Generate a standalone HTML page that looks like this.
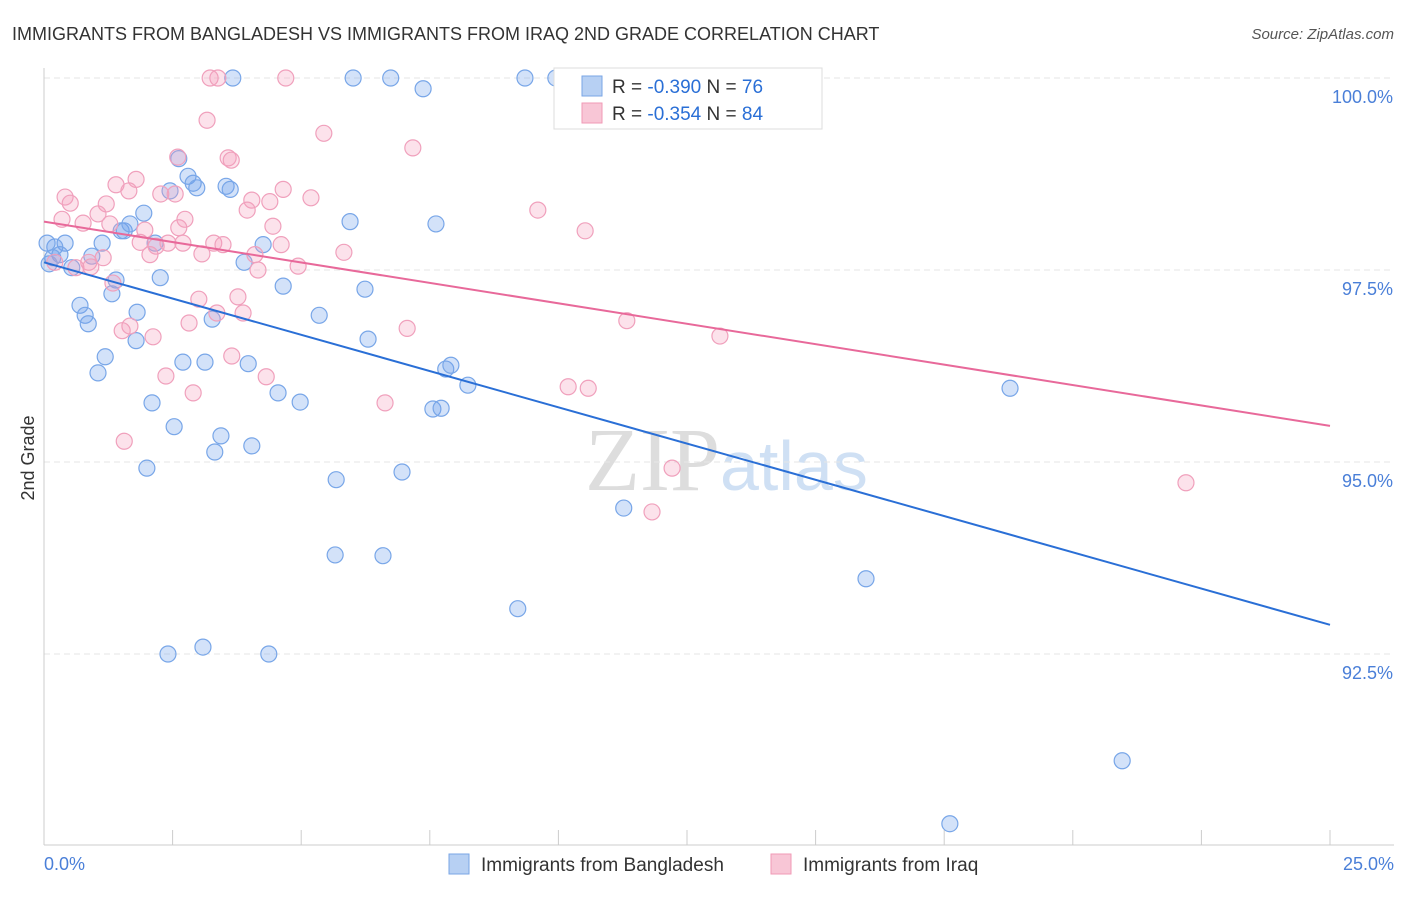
<!DOCTYPE html>
<html><head><meta charset="utf-8"><style>
body{margin:0;background:#fff;font-family:"Liberation Sans",sans-serif;}
</style></head><body>
<svg id="chart" width="1406" height="892" xmlns="http://www.w3.org/2000/svg">
<text x="12" y="40" font-size="18" fill="#333">IMMIGRANTS FROM BANGLADESH VS IMMIGRANTS FROM IRAQ 2ND GRADE CORRELATION CHART</text>
<text x="1394" y="39" font-size="15" fill="#555" font-style="italic" text-anchor="end">Source: ZipAtlas.com</text>
<text x="34" y="458" font-size="18" fill="#333" text-anchor="middle" transform="rotate(-90 34 458)">2nd Grade</text>
<text x="720" y="490" font-size="90" fill="#ddd" text-anchor="end" font-family="Liberation Serif">ZIP</text>
<text x="720" y="490" font-size="70" fill="#cfe0f4">atlas</text>
<g id="grid"></g><g id="axes"></g><g id="pts"></g><g id="lines"></g>
<g>
<rect x="554" y="68" width="268" height="61" fill="#fff" stroke="#ddd"/>
<rect x="582" y="76" width="20" height="20" fill="#b7d0f3" stroke="#7aa6e6"/>
<rect x="582" y="103" width="20" height="20" fill="#f8c6d6" stroke="#f09ab6"/>
<text x="612" y="93" font-size="19" fill="#333">R = <tspan fill="#2a6fd6">-0.390</tspan>   N = <tspan fill="#2a6fd6">76</tspan></text>
<text x="612" y="120" font-size="19" fill="#333">R = <tspan fill="#2a6fd6">-0.354</tspan>   N = <tspan fill="#2a6fd6">84</tspan></text>
</g>
<g>
<rect x="449" y="854" width="20" height="20" fill="#b7d0f3" stroke="#7aa6e6"/>
<text x="481" y="871" font-size="19" fill="#333">Immigrants from Bangladesh</text>
<rect x="771" y="854" width="20" height="20" fill="#f8c6d6" stroke="#f09ab6"/>
<text x="803" y="871" font-size="19" fill="#333">Immigrants from Iraq</text>
</g>
</svg>
<script>
const blueX=[3.67,6.01,6.74,9.35,9.95,7.37,2.62,2.80,2.90,2.97,2.45,3.54,3.62,1.94,5.95,7.62,1.50,1.56,1.67,1.13,0.41,0.21,0.06,0.31,0.17,0.10,0.54,0.93,1.40,1.32,2.26,2.16,4.26,3.89,4.65,6.24,0.70,0.80,0.86,1.81,3.27,5.35,6.30,1.79,1.19,1.05,2.70,3.13,3.97,4.55,4.98,2.10,7.81,7.91,8.24,7.56,7.72,18.78,2.53,3.44,3.32,4.04,2.00,5.68,6.96,11.27,5.66,6.59,9.21,15.98,2.41,3.09,4.37,20.96,17.61];
const blueY=[100,100,100,100,100,99.86,98.95,98.72,98.63,98.57,98.53,98.59,98.55,98.24,98.13,98.10,98.01,98.01,98.10,97.85,97.85,97.80,97.85,97.70,97.66,97.58,97.53,97.68,97.37,97.19,97.40,97.85,97.83,97.60,97.29,97.25,97.04,96.91,96.80,96.95,96.86,96.91,96.60,96.58,96.37,96.16,96.30,96.30,96.28,95.90,95.78,95.77,96.21,96.26,96.00,95.69,95.70,95.96,95.46,95.34,95.13,95.21,94.92,94.77,94.87,94.40,93.79,93.78,93.09,93.48,92.50,92.59,92.50,91.11,90.29];
const pinkX=[3.23,3.38,4.70,14.06,3.17,5.44,7.17,2.60,3.58,3.64,1.79,1.40,0.41,0.51,1.21,1.65,2.27,2.55,4.04,4.39,4.65,5.19,3.95,0.35,1.05,0.76,1.28,2.74,2.62,1.96,9.60,10.52,4.45,2.70,3.30,3.48,4.61,1.87,2.18,2.06,2.41,3.07,4.10,4.16,4.94,5.83,0.87,0.62,1.15,0.91,1.34,3.01,3.77,3.36,3.87,2.82,1.67,1.52,2.12,7.06,11.33,13.14,3.65,2.37,4.32,2.90,6.63,10.19,10.58,1.56,12.21,11.82,22.20,0.21];
const pinkY=[100,100,100,100,99.45,99.28,99.09,98.97,98.96,98.93,98.68,98.61,98.45,98.37,98.36,98.53,98.49,98.49,98.41,98.39,98.55,98.44,98.28,98.16,98.23,98.11,98.10,98.16,98.05,98.02,98.28,98.01,98.07,97.85,97.85,97.83,97.83,97.86,97.81,97.70,97.85,97.71,97.70,97.50,97.55,97.73,97.60,97.53,97.66,97.54,97.33,97.12,97.15,96.94,96.94,96.81,96.77,96.71,96.63,96.74,96.84,96.64,96.38,96.12,96.11,95.90,95.77,95.98,95.96,95.27,94.92,94.35,94.73,97.60];
const blueLine=[97.60,92.88];
const pinkLine=[98.13,95.47];
const yTicks=[100,97.5,95,92.5];
const yTickLabels=["100.0%","97.5%","95.0%","92.5%"];
const xTicks=[0,2.5,5,7.5,10,12.5,15,17.5,20,22.5,25];
const X=v=>44+v*51.44, Y=v=>78+(100-v)*76.8;
const NS="http://www.w3.org/2000/svg";
function mk(p,tag,a){const e=document.createElementNS(NS,tag);for(const k in a)e.setAttribute(k,a[k]);document.getElementById(p).appendChild(e);return e;}
yTicks.forEach((t,i)=>{
 const g=mk('grid','line',{x1:44,x2:1394,y1:Y(t),y2:Y(t),stroke:'#e6e6e6','stroke-dasharray':'6 4'});
 
 
 const l=mk('grid','text',{x:1393,y:Y(t)+25,'font-size':18,fill:'#4a7fd8','text-anchor':'end'});
 l.textContent=yTickLabels[i];
 
 
});
const ax=mk('axes','line',{x1:44,x2:44,y1:68,y2:845,stroke:'#ccc'});


const bx=mk('axes','line',{x1:44,x2:1394,y1:845,y2:845,stroke:'#ccc'});


xTicks.forEach(t=>{const k=mk('axes','line',{x1:X(t),x2:X(t),y1:830,y2:845,stroke:'#ccc'});
 
 });
const x0=mk('axes','text',{x:44,y:870,'font-size':18,fill:'#4a7fd8'});x0.textContent='0.0%';


const x1=mk('axes','text',{x:1394,y:870,'font-size':18,fill:'#4a7fd8','text-anchor':'end'});x1.textContent='25.0%';


blueX.forEach((v,i)=>{const c=mk('pts','circle',{cx:X(v),cy:Y(blueY[i]),r:8,fill:'rgba(110,160,235,0.3)',stroke:'#78a6e8','stroke-width':1.2});
 
 });
pinkX.forEach((v,i)=>{const c=mk('pts','circle',{cx:X(v),cy:Y(pinkY[i]),r:8,fill:'rgba(245,160,190,0.3)',stroke:'#f0a0bc','stroke-width':1.2});
 
 });
const bl=mk('lines','line',{x1:X(0),y1:Y(blueLine[0]),x2:X(25),y2:Y(blueLine[1]),stroke:'#2a6fd6','stroke-width':2});


const pl=mk('lines','line',{x1:X(0),y1:Y(pinkLine[0]),x2:X(25),y2:Y(pinkLine[1]),stroke:'#e8699a','stroke-width':2});


</script>
</body></html>
